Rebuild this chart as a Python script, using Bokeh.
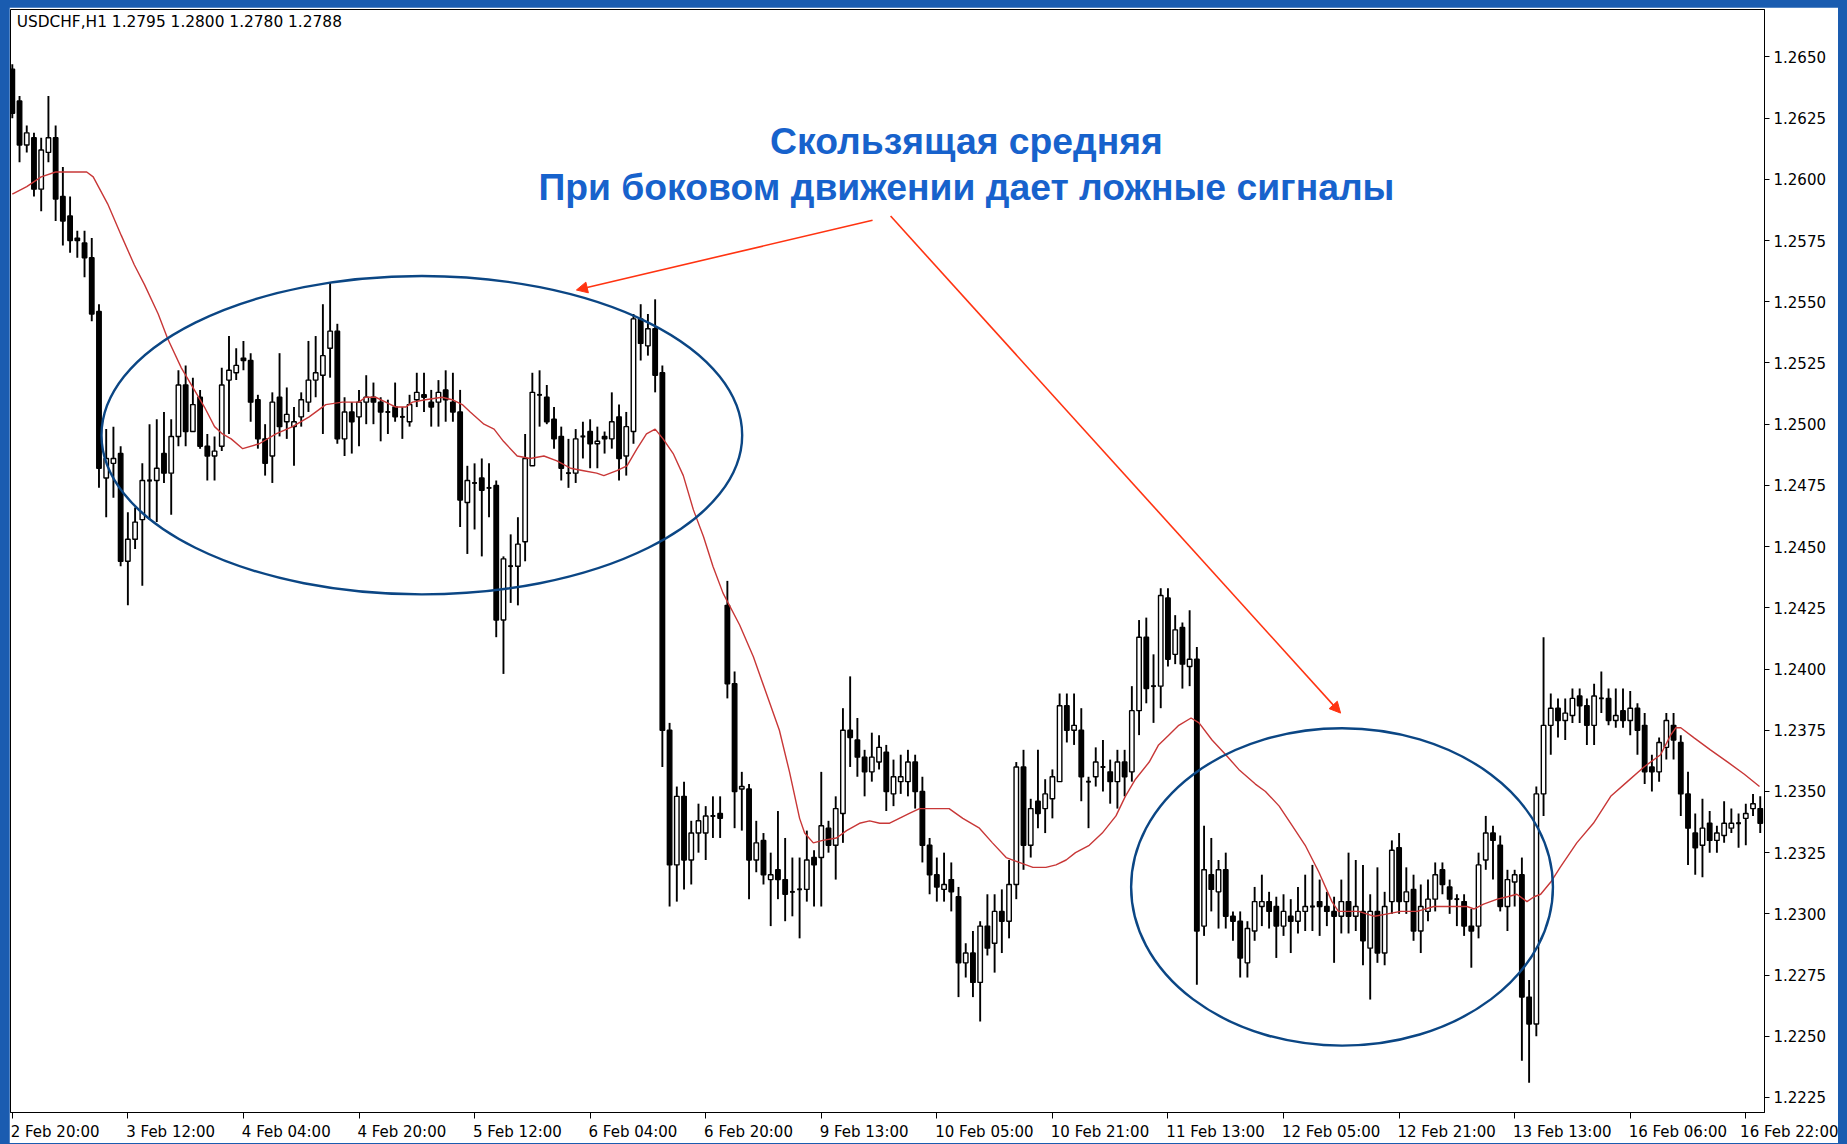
from bokeh.plotting import figure
from bokeh.models import (ColumnDataSource, FixedTicker, PrintfTickFormatter, Label,
                          Arrow, NormalHead, Range1d, LinearAxis)
from bokeh.embed import file_html
from bokeh.resources import INLINE

# ---------------- data (USDCHF H1) ----------------
opens = [
    1.2645, 1.2632, 1.2614, 1.2617, 1.2596, 1.2611, 1.2617, 1.2593, 1.2585, 1.2576,
    1.2574, 1.2568, 1.2546, 1.2478, 1.2484, 1.2488, 1.2444, 1.2453, 1.2461, 1.2477,
    1.2477, 1.2488, 1.2480, 1.2495, 1.2516, 1.2497, 1.2511, 1.2491, 1.2487, 1.2491,
    1.2518, 1.2521, 1.2527, 1.2526, 1.2510, 1.2494, 1.2487, 1.2511, 1.2501, 1.2499,
    1.2503, 1.2509, 1.2518, 1.2520, 1.2531, 1.2538, 1.2494, 1.2505, 1.2503, 1.2509,
    1.2511, 1.2509, 1.2505, 1.2507, 1.2503, 1.2501, 1.2510, 1.2512, 1.2509, 1.2509,
    1.2514, 1.2509, 1.2505, 1.2468, 1.2476, 1.2478, 1.2474, 1.2475, 1.2420, 1.2442,
    1.2442, 1.2452, 1.2483, 1.2512, 1.2511, 1.2502, 1.2495, 1.2480, 1.2480, 1.2495,
    1.2497, 1.2492, 1.2495, 1.2494, 1.2503, 1.2487, 1.2497, 1.2543, 1.2532, 1.2539,
    1.2521, 1.2375, 1.2320, 1.2348, 1.2322, 1.2333, 1.2333, 1.2340, 1.2341, 1.2426,
    1.2394, 1.2351, 1.2351, 1.2322, 1.2330, 1.2314, 1.2318, 1.2314, 1.2309, 1.2310,
    1.2310, 1.2323, 1.2323, 1.2335, 1.2328, 1.2341, 1.2375, 1.2371, 1.2364, 1.2358,
    1.2362, 1.2366, 1.2349, 1.2354, 1.2354, 1.2362, 1.2350, 1.2328, 1.2316, 1.2310,
    1.2314, 1.2307, 1.2280, 1.2284, 1.2272, 1.2295, 1.2288, 1.2301, 1.2297, 1.2312,
    1.2360, 1.2328, 1.2346, 1.2343, 1.2347, 1.2354, 1.2385, 1.2375, 1.2375, 1.2354,
    1.2356, 1.2360, 1.2358, 1.2354, 1.2362, 1.2358, 1.2383, 1.2413, 1.2393, 1.2393,
    1.2429, 1.2406, 1.2417, 1.2401, 1.2404, 1.2295, 1.2316, 1.2309, 1.2318, 1.2299,
    1.2297, 1.2280, 1.2293, 1.2303, 1.2305, 1.2303, 1.2295, 1.2299, 1.2297, 1.2301,
    1.2303, 1.2305, 1.2303, 1.2301, 1.2299, 1.2305, 1.2299, 1.2301, 1.2286, 1.2301,
    1.2284, 1.2305, 1.2327, 1.2305, 1.2310, 1.2293, 1.2301, 1.2306, 1.2318, 1.2311,
    1.2306, 1.2305, 1.2295, 1.2295, 1.2322, 1.2333, 1.2328, 1.2303, 1.2313, 1.2316,
    1.2266, 1.2255, 1.2349, 1.2377, 1.2384, 1.2379, 1.2381, 1.2389, 1.2385, 1.2377,
    1.2388, 1.2388, 1.2379, 1.2383, 1.2379, 1.2384, 1.2377, 1.2360, 1.2358, 1.2368,
    1.2377, 1.2370, 1.2349, 1.2333, 1.2328, 1.2337, 1.2330, 1.2332, 1.2335, 1.2337,
    1.2339, 1.2343, 1.2343,
]
highs = [
    1.2647, 1.2634, 1.2622, 1.2619, 1.2617, 1.2634, 1.2622, 1.2605, 1.2593, 1.2579,
    1.2579, 1.2576, 1.2549, 1.2498, 1.2499, 1.2491, 1.2464, 1.2466, 1.2484, 1.2500,
    1.2502, 1.2505, 1.2502, 1.2522, 1.2524, 1.2519, 1.2514, 1.2496, 1.2495, 1.2523,
    1.2536, 1.2531, 1.2534, 1.2529, 1.2512, 1.2500, 1.2513, 1.2529, 1.2515, 1.2507,
    1.2513, 1.2534, 1.2536, 1.2549, 1.2558, 1.2541, 1.2511, 1.2509, 1.2514, 1.2520,
    1.2517, 1.2511, 1.2510, 1.2517, 1.2507, 1.2512, 1.2521, 1.2521, 1.2514, 1.2518,
    1.2522, 1.2521, 1.2514, 1.2483, 1.2484, 1.2486, 1.2484, 1.2477, 1.2446, 1.2455,
    1.2462, 1.2496, 1.2521, 1.2522, 1.2516, 1.2507, 1.2499, 1.2494, 1.2498, 1.2501,
    1.2502, 1.2499, 1.2497, 1.2513, 1.2508, 1.2505, 1.2545, 1.2549, 1.2545, 1.2551,
    1.2524, 1.2378, 1.2352, 1.2354, 1.2338, 1.2345, 1.2344, 1.2348, 1.2348, 1.2436,
    1.2399, 1.2358, 1.2353, 1.2338, 1.2333, 1.2325, 1.2342, 1.2331, 1.2323, 1.2323,
    1.2334, 1.2326, 1.2358, 1.2338, 1.2348, 1.2384, 1.2397, 1.2380, 1.2367, 1.2374,
    1.2373, 1.2369, 1.2363, 1.2365, 1.2367, 1.2365, 1.2356, 1.2331, 1.2323, 1.2325,
    1.2321, 1.2311, 1.2288, 1.2293, 1.2297, 1.2308, 1.2308, 1.2310, 1.2322, 1.2362,
    1.2367, 1.2347, 1.2367, 1.2355, 1.2359, 1.2390, 1.2390, 1.2390, 1.2384, 1.2356,
    1.2368, 1.2371, 1.2363, 1.2367, 1.2367, 1.2393, 1.2420, 1.2421, 1.2406, 1.2433,
    1.2433, 1.2422, 1.2419, 1.2424, 1.2409, 1.2336, 1.2331, 1.2322, 1.2325, 1.2301,
    1.2301, 1.2297, 1.2311, 1.2316, 1.2309, 1.2307, 1.2308, 1.2306, 1.2311, 1.2316,
    1.2320, 1.2314, 1.2309, 1.2307, 1.2314, 1.2325, 1.2322, 1.2320, 1.2308, 1.2319,
    1.2309, 1.2330, 1.2333, 1.2319, 1.2316, 1.2312, 1.2314, 1.2321, 1.2321, 1.2314,
    1.2308, 1.2308, 1.2302, 1.2325, 1.2340, 1.2336, 1.2332, 1.2318, 1.2318, 1.2323,
    1.2273, 1.2352, 1.2413, 1.2390, 1.2388, 1.2388, 1.2392, 1.2392, 1.2388, 1.2394,
    1.2399, 1.2392, 1.2392, 1.2392, 1.2391, 1.2386, 1.2382, 1.2365, 1.2372, 1.2382,
    1.2382, 1.2373, 1.2358, 1.2341, 1.2347, 1.2342, 1.2336, 1.2346, 1.2343, 1.2341,
    1.2345, 1.2349, 1.2348,
]
lows = [
    1.2625, 1.2607, 1.2611, 1.2593, 1.2587, 1.2607, 1.2583, 1.2573, 1.2570, 1.2568,
    1.2560, 1.2542, 1.2474, 1.2462, 1.2470, 1.2442, 1.2426, 1.2449, 1.2434, 1.2461,
    1.2460, 1.2476, 1.2463, 1.2491, 1.2491, 1.2497, 1.2490, 1.2477, 1.2477, 1.2489,
    1.2496, 1.2518, 1.2522, 1.2501, 1.2490, 1.2479, 1.2476, 1.2495, 1.2494, 1.2483,
    1.2499, 1.2505, 1.2511, 1.2496, 1.2519, 1.2492, 1.2487, 1.2488, 1.2491, 1.2500,
    1.2500, 1.2493, 1.2496, 1.2501, 1.2494, 1.2499, 1.2507, 1.2505, 1.2499, 1.2499,
    1.2501, 1.2501, 1.2458, 1.2447, 1.2457, 1.2446, 1.2462, 1.2413, 1.2398, 1.2427,
    1.2426, 1.2444, 1.2483, 1.2499, 1.2500, 1.2490, 1.2477, 1.2474, 1.2476, 1.2486,
    1.2482, 1.2482, 1.2488, 1.2490, 1.2477, 1.2479, 1.2492, 1.2526, 1.2528, 1.2513,
    1.2360, 1.2303, 1.2305, 1.2310, 1.2312, 1.2325, 1.2322, 1.2331, 1.2331, 1.2388,
    1.2335, 1.2334, 1.2306, 1.2317, 1.2312, 1.2295, 1.2306, 1.2297, 1.2299, 1.2290,
    1.2305, 1.2303, 1.2303, 1.2325, 1.2314, 1.2329, 1.2360, 1.2356, 1.2348, 1.2354,
    1.2359, 1.2342, 1.2344, 1.2349, 1.2348, 1.2343, 1.2321, 1.2308, 1.2305, 1.2305,
    1.2301, 1.2266, 1.2274, 1.2266, 1.2256, 1.2283, 1.2276, 1.2284, 1.2290, 1.2306,
    1.2318, 1.2323, 1.2335, 1.2333, 1.2339, 1.2354, 1.2370, 1.2369, 1.2346, 1.2335,
    1.2352, 1.2350, 1.2345, 1.2343, 1.2348, 1.2354, 1.2373, 1.2386, 1.2378, 1.2384,
    1.2401, 1.2402, 1.2392, 1.2393, 1.2271, 1.2291, 1.2301, 1.2294, 1.2294, 1.2289,
    1.2274, 1.2274, 1.2289, 1.2295, 1.2294, 1.2282, 1.2291, 1.2284, 1.2292, 1.2293,
    1.2293, 1.2291, 1.2295, 1.2280, 1.2292, 1.2292, 1.2293, 1.2279, 1.2265, 1.2280,
    1.2279, 1.2300, 1.2300, 1.2300, 1.2289, 1.2284, 1.2297, 1.2301, 1.2308, 1.2300,
    1.2295, 1.2291, 1.2278, 1.2290, 1.2318, 1.2314, 1.2301, 1.2293, 1.2303, 1.2240,
    1.2231, 1.2250, 1.2340, 1.2365, 1.2372, 1.2371, 1.2378, 1.2378, 1.2369, 1.2369,
    1.2382, 1.2377, 1.2376, 1.2376, 1.2373, 1.2365, 1.2353, 1.2350, 1.2354, 1.2363,
    1.2363, 1.2340, 1.2320, 1.2316, 1.2315, 1.2325, 1.2325, 1.2329, 1.2333, 1.2327,
    1.2328, 1.2340, 1.2333,
]
closes = [
    1.2627, 1.2614, 1.2619, 1.2596, 1.2612, 1.2617, 1.2592, 1.2583, 1.2575, 1.2575,
    1.2568, 1.2545, 1.2482, 1.2486, 1.2486, 1.2444, 1.2453, 1.2460, 1.2477, 1.2477,
    1.2482, 1.2480, 1.2495, 1.2516, 1.2497, 1.2508, 1.2491, 1.2487, 1.2489, 1.2516,
    1.2522, 1.2524, 1.2526, 1.2509, 1.2494, 1.2484, 1.2509, 1.2499, 1.2504, 1.2501,
    1.2510, 1.2518, 1.2521, 1.2528, 1.2538, 1.2494, 1.2505, 1.2501, 1.2509, 1.2511,
    1.2509, 1.2505, 1.2505, 1.2503, 1.2503, 1.2508, 1.2513, 1.2511, 1.2507, 1.2513,
    1.2510, 1.2505, 1.2469, 1.2477, 1.2476, 1.2473, 1.2474, 1.2420, 1.2445, 1.2442,
    1.2451, 1.2486, 1.2513, 1.2512, 1.2501, 1.2494, 1.2482, 1.2480, 1.2494, 1.2495,
    1.2492, 1.2493, 1.2494, 1.2501, 1.2486, 1.2499, 1.2543, 1.2533, 1.2539, 1.2520,
    1.2375, 1.2320, 1.2348, 1.2322, 1.2333, 1.2338, 1.2340, 1.2340, 1.2339, 1.2394,
    1.2350, 1.2352, 1.2322, 1.2329, 1.2316, 1.2316, 1.2314, 1.2308, 1.2309, 1.2310,
    1.2322, 1.2320, 1.2336, 1.2328, 1.2343, 1.2375, 1.2372, 1.2364, 1.2358, 1.2364,
    1.2368, 1.2350, 1.2356, 1.2356, 1.2362, 1.2350, 1.2328, 1.2316, 1.2311, 1.2312,
    1.2309, 1.2280, 1.2284, 1.2272, 1.2295, 1.2286, 1.2301, 1.2297, 1.2312, 1.2360,
    1.2328, 1.2343, 1.2341, 1.2349, 1.2356, 1.2385, 1.2375, 1.2377, 1.2356, 1.2354,
    1.2362, 1.2360, 1.2354, 1.2362, 1.2356, 1.2383, 1.2413, 1.2392, 1.2393, 1.2430,
    1.2404, 1.2416, 1.2402, 1.2404, 1.2293, 1.2318, 1.2310, 1.2318, 1.2299, 1.2297,
    1.2282, 1.2294, 1.2305, 1.2305, 1.2301, 1.2295, 1.2301, 1.2297, 1.2301, 1.2303,
    1.2303, 1.2303, 1.2301, 1.2299, 1.2305, 1.2299, 1.2303, 1.2289, 1.2301, 1.2284,
    1.2303, 1.2326, 1.2305, 1.2309, 1.2293, 1.2303, 1.2306, 1.2316, 1.2312, 1.2306,
    1.2306, 1.2295, 1.2293, 1.2320, 1.2333, 1.2330, 1.2303, 1.2314, 1.2316, 1.2266,
    1.2255, 1.2349, 1.2377, 1.2384, 1.2379, 1.2382, 1.2388, 1.2385, 1.2377, 1.2389,
    1.2388, 1.2379, 1.2381, 1.2379, 1.2384, 1.2375, 1.2358, 1.2358, 1.2370, 1.2379,
    1.2371, 1.2349, 1.2335, 1.2327, 1.2335, 1.2330, 1.2333, 1.2337, 1.2337, 1.2337,
    1.2341, 1.2345, 1.2337,
]

# moving average (bar position, value)
ma_bar = [0, 2, 4, 6, 10.3, 11.2, 13.2, 15.1, 16.9, 18.3, 20.2, 21.5, 23.4, 25.2, 26.6, 28.0,
          29.1, 30.3, 31.9, 34.2, 36.5, 38.8, 41.1, 43.4, 45.7, 48.0, 48.9, 50.3, 51.7, 53.1,
          54.5, 55.4, 57.2, 59.5, 60.9, 62.3, 63.4, 65.3, 66.7, 68.0, 69.9, 71.7, 73.6, 75.4,
          77.3, 79.1, 80.9, 81.9, 83.7, 85.1, 86.5, 87.8, 89.0, 90.1, 91.5, 92.9, 94.3, 95.7,
          97.0, 98.4, 100.7, 102.6, 104.4, 106.2, 107.6, 109.0, 109.7, 110.9, 112.2, 114.1,
          115.5, 117.3, 118.7, 120.1, 121.4, 122.8, 124.2, 125.6, 129.7, 131.6, 133.9, 135.7,
          137.6, 139.4, 141.3, 143.1, 144.5, 145.9, 147.2, 149.1, 150.9, 152.8, 154.1, 155.5,
          157.4, 158.7, 160.1, 161.5, 163.2, 164.3, 166.1, 168.0, 169.8, 172.1, 173.5, 175.4,
          177.2, 179.0, 180.9, 182.7, 183.6, 186.4, 188.6, 190.4, 192.2, 194.5, 196.8, 199.1,
          201.4, 202.4, 203.7, 205.6, 207.0, 208.3, 209.7, 210.7, 211.6, 213.0, 214.3, 216.6,
          218.9, 221.3, 223.6, 225.9, 228.2, 229.6, 230.3, 231.0, 232.8, 235.1, 237.5, 239.8,
          241.9]
ma_val = [1.2594, 1.2597, 1.2601, 1.2603, 1.2603, 1.2601, 1.2590, 1.2577, 1.2565, 1.2557,
          1.2545, 1.2535, 1.2523, 1.2514, 1.2507, 1.2499, 1.2496, 1.2494, 1.2490, 1.2492,
          1.2496, 1.2499, 1.2503, 1.2508, 1.2509, 1.2509, 1.2511, 1.2511, 1.2509, 1.2507,
          1.2507, 1.2509, 1.2510, 1.2511, 1.2510, 1.2508, 1.2505, 1.2500, 1.2498, 1.2493,
          1.2487, 1.2486, 1.2487, 1.2485, 1.2482, 1.2481, 1.2480, 1.2479, 1.2481, 1.2483,
          1.2490, 1.2496, 1.2498, 1.2494, 1.2488, 1.2479, 1.2465, 1.2454, 1.2442, 1.2431,
          1.2418, 1.2405, 1.2390, 1.2375, 1.2358, 1.2339, 1.2333, 1.2329, 1.2330, 1.2331,
          1.2334, 1.2337, 1.2338, 1.2337, 1.2337, 1.2339, 1.2341, 1.2343, 1.2343, 1.2339,
          1.2335, 1.2329, 1.2323, 1.2321, 1.2319, 1.2319, 1.2320, 1.2322, 1.2325, 1.2328,
          1.2333, 1.2340, 1.2348, 1.2355, 1.2362, 1.2369, 1.2373, 1.2377, 1.2380, 1.2378,
          1.2371, 1.2365, 1.2359, 1.2353, 1.2350, 1.2344, 1.2336, 1.2328, 1.2317, 1.2305,
          1.2301, 1.2301, 1.2299, 1.2300, 1.2301, 1.2301, 1.2303, 1.2303, 1.2303, 1.2302,
          1.2304, 1.2306, 1.2307, 1.2308, 1.2305, 1.2307, 1.2308, 1.2313, 1.2319, 1.2329,
          1.2337, 1.2348, 1.2354, 1.2360, 1.2365, 1.2373, 1.2376, 1.2376, 1.2372, 1.2367,
          1.2362, 1.2357, 1.2352]

y_ticks = [1.2225, 1.2250, 1.2275, 1.2300, 1.2325, 1.2350, 1.2375, 1.2400, 1.2425,
           1.2450, 1.2475, 1.2500, 1.2525, 1.2550, 1.2575, 1.2600, 1.2625, 1.2650]
x_tick_bars = [0, 16, 32, 48, 64, 80, 96, 112, 128, 144, 160, 176, 192, 208, 224, 240]
x_tick_labels = ["2 Feb 20:00", "3 Feb 12:00", "4 Feb 04:00", "4 Feb 20:00", "5 Feb 12:00",
                 "6 Feb 04:00", "6 Feb 20:00", "9 Feb 13:00", "10 Feb 05:00", "10 Feb 21:00",
                 "11 Feb 13:00", "12 Feb 05:00", "12 Feb 21:00", "13 Feb 13:00",
                 "16 Feb 06:00", "16 Feb 22:00"]

header_text = "USDCHF,H1  1.2795 1.2800 1.2780 1.2788"
title_line1 = "Скользящая средняя"
title_line2 = "При боковом движении дает ложные сигналы"

# ---------------- layout constants ----------------
X0, X1 = -0.25, 242.59
Y0, Y1 = 1.221887, 1.266937
FRAME_W = 1754
PX_PER_BAR = FRAME_W / (X1 - X0)
AXIS_FONT_PX = 15
NBSP = "\u00a0"
# DejaVu Sans advance widths (em) for the characters of the time labels
EM = {" ": 0.318, ":": 0.337, "F": 0.575, "e": 0.615, "b": 0.635, NBSP: 0.318}

# ---------------- derived columns ----------------
n = len(opens)
idx = list(range(n))
tops = [max(o, c) for o, c in zip(opens, closes)]
bots = [min(o, c) for o, c in zip(opens, closes)]
fills = ["white" if c >= o else "black" for o, c in zip(opens, closes)]
src = ColumnDataSource(dict(x=idx, h=highs, l=lows, t=tops, b=bots, f=fills))
doji = [i for i in idx if abs(opens[i] - closes[i]) < 1e-9]
dsrc = ColumnDataSource(dict(x0=[i - 0.32 for i in doji], x1=[i + 0.32 for i in doji],
                             y=[opens[i] for i in doji]))

# ---------------- figure ----------------
p = figure(width=1829, height=1136, output_backend="svg", toolbar_location=None,
           x_range=Range1d(X0, X1), y_range=Range1d(Y0, Y1),
           y_axis_location="right", min_border_left=1, min_border_right=74,
           min_border_top=2, min_border_bottom=29)
p.background_fill_color = "white"
p.border_fill_color = "white"
p.outline_line_color = "black"
p.outline_line_width = 1
p.grid.visible = False

# y axis (right)
p.yaxis.ticker = FixedTicker(ticks=y_ticks)
p.yaxis.formatter = PrintfTickFormatter(format="%.4f")
p.yaxis.axis_line_color = "black"
p.yaxis.major_tick_line_color = "black"
p.yaxis.major_tick_in = 0
p.yaxis.major_tick_out = 5
p.yaxis.minor_tick_line_color = None
p.yaxis.major_label_text_font = "DejaVu Sans"
p.yaxis.major_label_text_font_size = f"{AXIS_FONT_PX}px"
p.yaxis.major_label_text_color = "black"
p.yaxis.major_label_standoff = 4

# x axis: tick marks only
p.xaxis.ticker = FixedTicker(ticks=x_tick_bars)
p.xaxis.major_label_overrides = {b: "" for b in x_tick_bars}
p.xaxis.axis_line_color = "black"
p.xaxis.major_tick_line_color = "black"
p.xaxis.major_tick_in = 0
p.xaxis.major_tick_out = 6
p.xaxis.minor_tick_line_color = None
p.xaxis.major_label_standoff = 0
p.xaxis.major_label_text_font_size = "1px"

# second x axis carrying the labels, each label starting just at its tick
def width_px(s):
    return sum(EM.get(ch, 0.636) for ch in s) * AXIS_FONT_PX

label_pos, label_txt = [], []
edge = X1 - 0.04
for b, s in zip(x_tick_bars, x_tick_labels):
    start_px = (b - X0) * PX_PER_BAR - 2          # where the visible text should start
    centre_px = start_px + width_px(s) / 2
    edge_px = (edge - X0) * PX_PER_BAR
    if centre_px <= edge_px:
        q, t = round(b + (width_px(s) / 2 - 2) / PX_PER_BAR, 3), s
    else:
        # centre the label at the frame edge and pad its left side so the text still starts at the tick
        pad = max(0, round((width_px(s) + 2 * (start_px - edge_px)) / (EM[NBSP] * AXIS_FONT_PX)))
        q, t = round(edge, 3), NBSP * pad + s
    label_pos.append(q)
    label_txt.append(t)

lab_axis = LinearAxis(ticker=FixedTicker(ticks=label_pos),
                      major_label_overrides={q: t for q, t in zip(label_pos, label_txt)},
                      axis_line_color=None, major_tick_line_color=None,
                      minor_tick_line_color=None, major_tick_in=0, major_tick_out=0,
                      major_label_standoff=4, major_label_text_font="DejaVu Sans",
                      major_label_text_font_size=f"{AXIS_FONT_PX}px",
                      major_label_text_color="black")
p.add_layout(lab_axis, "below")

# candles
p.segment(x0="x", y0="h", x1="x", y1="l", source=src, line_color="black", line_width=1.9)
p.vbar(x="x", width=0.62, top="t", bottom="b", source=src, fill_color="f",
       line_color="black", line_width=1.4)
p.segment(x0="x0", y0="y", x1="x1", y1="y", source=dsrc, line_color="black", line_width=1.8)

# moving average
p.line(ma_bar, ma_val, line_color="#c83737", line_width=1.4)

# ellipses
p.ellipse(x=[56.7, 184.1], y=[1.24955, 1.23110], width=[88.7, 58.4],
          height=[0.013005, 0.012965], fill_color=None, line_color="#0b4684", line_width=2.4)

# arrows
for xs, ys, xe, ye in [(119.1, 1.25833, 78.1, 1.25548), (121.6, 1.25850, 183.9, 1.23820)]:
    p.add_layout(Arrow(x_start=xs, y_start=ys, x_end=xe, y_end=ye, line_color="#ff3311",
                       line_width=1.6,
                       end=NormalHead(size=11, fill_color="#ff3311", line_color="#ff3311")))

# texts
p.add_layout(Label(x=0.6, y=1.26642, text=header_text, text_font="DejaVu Sans",
                   text_font_size="15.4px", text_color="black", text_baseline="middle"))
p.add_layout(Label(x=132.1, y=1.26156, text=title_line1, text_font="Liberation Sans",
                   text_font_style="bold", text_font_size="37.3px", text_color="#1762cc",
                   text_align="center", text_baseline="middle"))
p.add_layout(Label(x=132.1, y=1.25968, text=title_line2, text_font="Liberation Sans",
                   text_font_style="bold", text_font_size="37.3px", text_color="#1762cc",
                   text_align="center", text_baseline="middle"))

html = file_html(p, INLINE, title="USDCHF H1")
css = ("<style>html, body { background-color: #1a5cb0 !important; margin: 0 !important; }"
       " body { padding: 7px 0 0 9px !important; }</style>")
html = html.replace("</head>", css + "</head>", 1)
open("out.html", "w").write(html)
